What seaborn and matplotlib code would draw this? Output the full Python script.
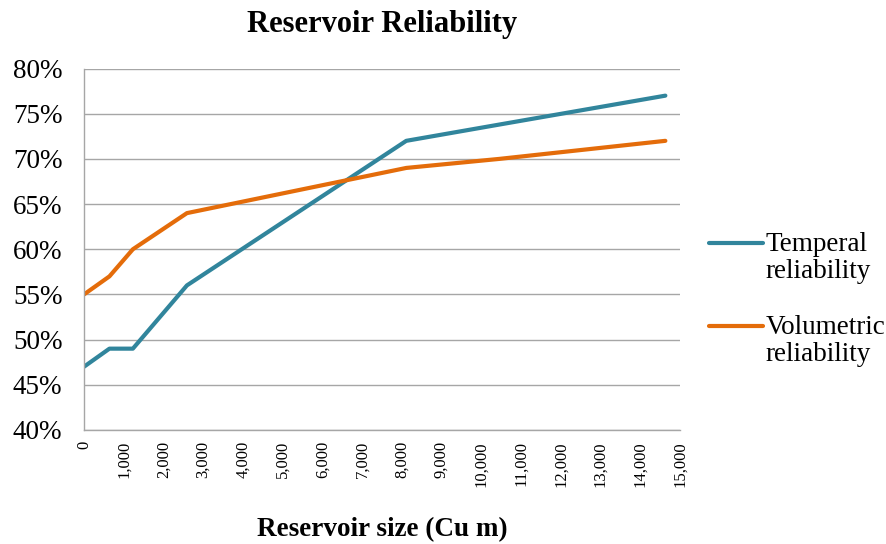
import matplotlib
matplotlib.use("Agg")
import matplotlib.pyplot as plt
import matplotlib.ticker as mticker
import pandas as pd
import seaborn as sns

# values
reservoir_size = [0, 640, 1230, 2590, 8110, 10450, 14630]
temperal = [0.47, 0.49, 0.49, 0.56, 0.72, 0.738, 0.77]
volumetric = [0.55, 0.57, 0.60, 0.64, 0.69, 0.70, 0.72]
series_names = ["Temperal\nreliability", "Volumetric\nreliability"]
colors = ["#31859C", "#E46C0A"]

df = pd.DataFrame({
    "size": reservoir_size * 2,
    "value": temperal + volumetric,
    "series": [series_names[0]] * len(reservoir_size) + [series_names[1]] * len(reservoir_size),
})

sns.set_style("white")
plt.rcParams["font.family"] = ["Liberation Serif", "DejaVu Serif"]
plt.rcParams["text.color"] = "black"
plt.rcParams["xtick.color"] = "black"
plt.rcParams["ytick.color"] = "black"
plt.rcParams["axes.labelcolor"] = "black"

fig = plt.figure(figsize=(8.87, 5.44), dpi=100)
ax = fig.add_axes([0.0947, 0.2096, 0.672, 0.6644])

sns.lineplot(data=df, x="size", y="value", hue="series", palette=colors,
             linewidth=3, ax=ax, sort=False)

ax.set_xlim(0, 15000)
ax.set_ylim(0.40, 0.80)
ax.xaxis.set_major_locator(mticker.MultipleLocator(1000))
ax.xaxis.set_major_formatter(mticker.FuncFormatter(lambda v, p: f"{int(v):,}"))
ax.yaxis.set_major_locator(mticker.MultipleLocator(0.05))
ax.yaxis.set_major_formatter(mticker.PercentFormatter(1.0, decimals=0))

ax.grid(axis="y", color="#A6A6A6", linewidth=1)
ax.set_axisbelow(True)
for s in ["top", "right"]:
    ax.spines[s].set_visible(False)
for s in ["left", "bottom"]:
    ax.spines[s].set_color("#A6A6A6")
    ax.spines[s].set_linewidth(1)

ax.tick_params(axis="y", length=6.5, color="#A6A6A6", labelcolor="black", labelsize=19.5, pad=9)
ax.tick_params(axis="x", length=5, color="#A6A6A6", labelcolor="black", labelsize=12, rotation=90, pad=3)

ax.set_xlabel("Reservoir size (Cu m)", fontsize=19.5, fontweight="bold", labelpad=22)
ax.set_ylabel("")
ax.set_title("Reservoir Reliability", fontsize=22, fontweight="bold", pad=26)

handles, labels = ax.get_legend_handles_labels()
leg = ax.legend(handles, labels, loc="center left", bbox_to_anchor=(1.03, 0.36),
                frameon=False, fontsize=19.5, handlelength=2.0, handletextpad=0.1,
                labelspacing=1.15, borderaxespad=0)
for t in leg.get_texts():
    t.set_linespacing(1.1)
# put the legend line beside the first text line, as in the reference
for ln in leg.get_lines():
    ln.set_ydata([y + 11 for y in ln.get_ydata()])
    ln.set_solid_capstyle("round")

fig.savefig("out.png", dpi=100)
